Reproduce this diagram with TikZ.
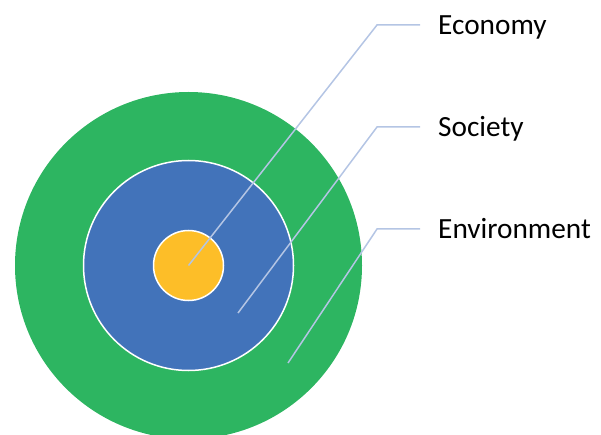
\documentclass[tikz,border=0pt]{standalone}
\usepackage{fontspec}
\setmainfont{Carlito}
\definecolor{envgreen}{RGB}{45,181,97}
\definecolor{socblue}{RGB}{66,115,186}
\definecolor{ecoorange}{RGB}{253,190,40}
\definecolor{leader}{RGB}{180,197,228}
\begin{document}
\begin{tikzpicture}[x=1pt,y=-1pt,
  ring/.style={circle,inner sep=0pt,draw=white,line width=1.5pt},
  leaderline/.style={draw=leader,line width=1.5pt},
  lbl/.style={anchor=base west,inner sep=0pt,font=\fontsize{29.3}{31}\selectfont}]
\useasboundingbox (0,0) rectangle (601,435);
\clip (0,0) rectangle (601,435);
\node[circle,inner sep=0pt,minimum size=347pt,fill=envgreen] (env) at (188.5,265.5) {};
\node[ring,minimum size=210pt,fill=socblue] (soc) at (188.5,265.5) {};
\node[ring,minimum size=70pt,fill=ecoorange] (eco) at (188.5,265.5) {};
\coordinate (p1) at (188.5,265.5);
\coordinate (p2) at (238,313);
\coordinate (p3) at (288,363);
\coordinate (e1) at (377,25);
\coordinate (e2) at (377,127);
\coordinate (e3) at (377,229);
\coordinate (f1) at (420,25);
\coordinate (f2) at (420,127);
\coordinate (f3) at (420,229);
\node[lbl] (t1) at (438,34.5) {Economy};
\node[lbl] (t2) at (438,136.5) {Society};
\node[lbl] (t3) at (438,238.5) {Environment};
\draw[leaderline] (p1) -- (e1) -- (f1);
\draw[leaderline] (p2) -- (e2) -- (f2);
\draw[leaderline] (p3) -- (e3) -- (f3);
\end{tikzpicture}
\end{document}
